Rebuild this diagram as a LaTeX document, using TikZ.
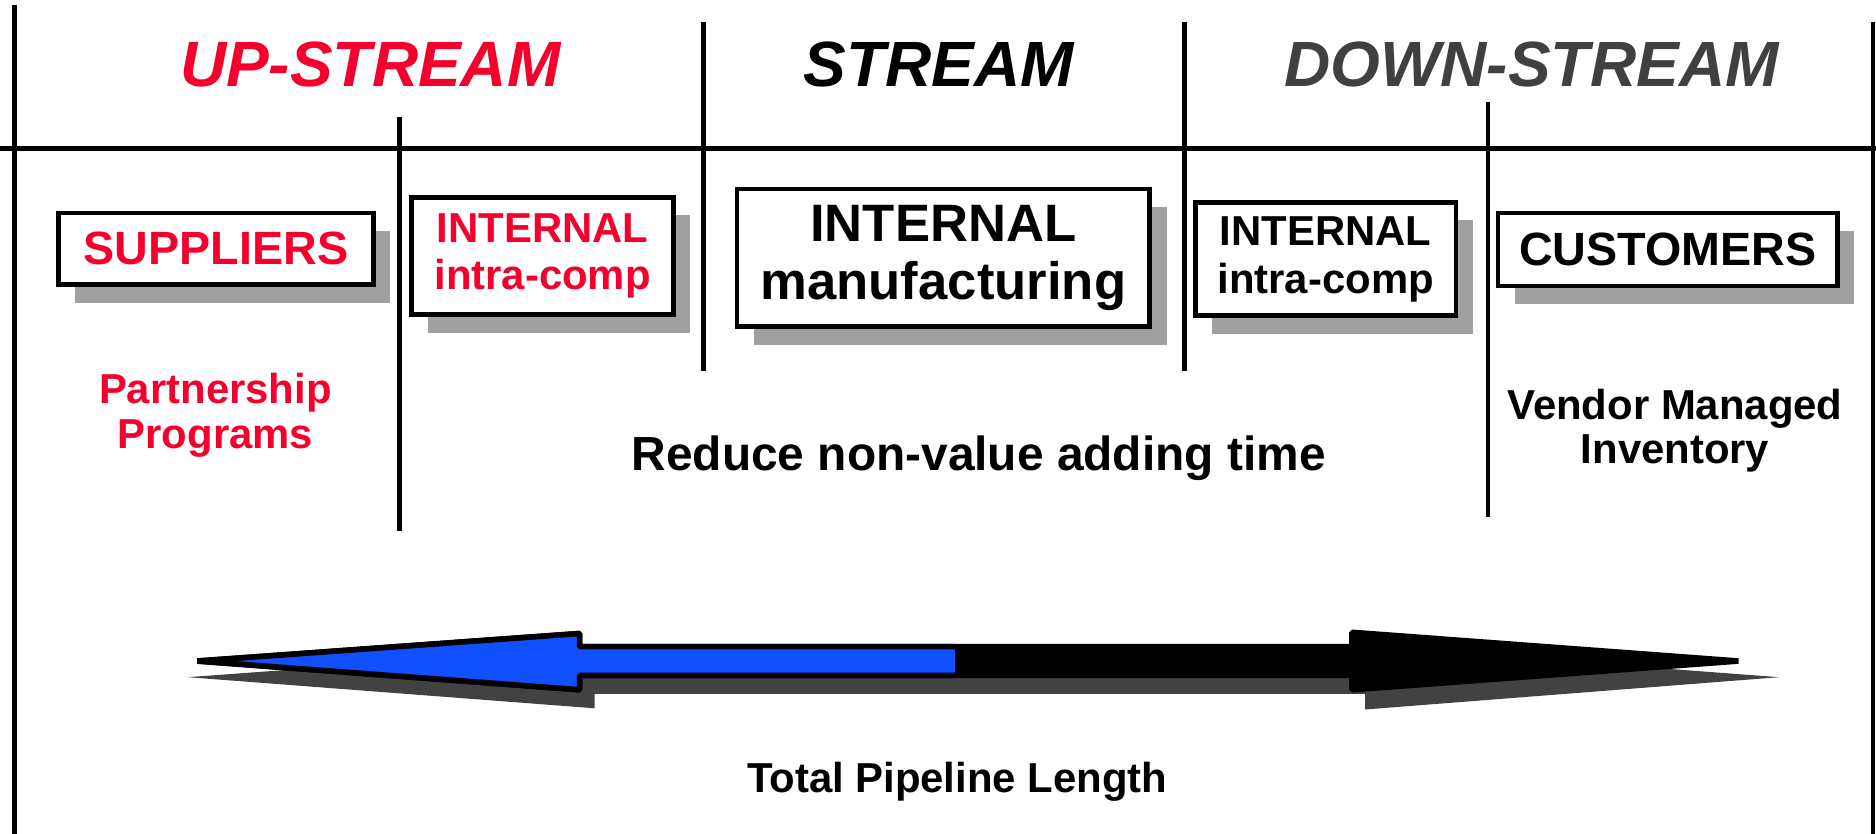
\documentclass[tikz,border=0pt]{standalone}
\usepackage{fontspec}
\setmainfont{Liberation Sans}
\usetikzlibrary{shadows}
\definecolor{upred}{RGB}{245,0,45}
\definecolor{downgray}{RGB}{64,64,64}
\definecolor{boxshadow}{RGB}{160,160,160}
\definecolor{arrowshadow}{RGB}{66,66,66}
\definecolor{arrowblue}{RGB}{17,80,255}
\newcommand\myfs[2]{\fontsize{#1}{#2}\selectfont}
\begin{document}
\begin{tikzpicture}[x=1pt,y=-1pt,
  divider/.style={line width=3.6pt},
  heading/.style={font=\myfs{53.5}{60}\bfseries\itshape, anchor=base, inner sep=0pt},
  pbox/.style={draw, line width=4pt, fill=white, inner sep=0pt, align=center,
    drop shadow={shadow xshift=14pt, shadow yshift=-15pt, fill=boxshadow, opacity=1}},
  label/.style={font=\myfs{35}{37}\bfseries, align=center, inner sep=0pt}
]
\useasboundingbox (0,0) rectangle (1568,697);
\fill[white] (0,0) rectangle (1568,697);

% dividers
\draw[divider] (12,4) -- (12,697);
\draw[divider] (0,124) -- (1568,124);
\draw[divider] (334,98) -- (334,444);
\draw[divider] (588,18) -- (588,310);
\draw[divider] (990,18) -- (990,310);
\draw[divider] (1243.5,85) -- (1243.5,432);
\draw[divider] (1565.5,18) -- (1565.5,697);

% headings
\node[heading, text=upred] (hup) at (309.5,72) {UP-STREAM};
\node[heading, text=black] (hst) at (784.5,72) {STREAM};
\node[heading, text=downgray] (hdn) at (1280,72) {DOWN-STREAM};

% boxes
\node[pbox, text=upred, minimum width=263pt, minimum height=60pt, font=\myfs{39}{44}\bfseries] (sup) at (180.5,208) {SUPPLIERS};
\node[pbox, text=upred, minimum width=219pt, minimum height=98pt, font=\myfs{35}{39}\bfseries] (intu) at (453.5,214) {INTERNAL\\intra-comp};
\node[pbox, text=black, minimum width=345pt, minimum height=115pt, font=\myfs{44}{49}\bfseries] (manu) at (788.5,215.5) {INTERNAL\\manufacturing};
\node[pbox, text=black, minimum width=218pt, minimum height=95pt, font=\myfs{35}{40}\bfseries] (intd) at (1108,216.5) {INTERNAL\\intra-comp};
\node[pbox, text=black, minimum width=284pt, minimum height=61pt, font=\myfs{39}{44}\bfseries] (cus) at (1394,208.5) {CUSTOMERS};

% free labels
\node[label, text=upred] (pp) at (180,347) {Partnership\\Programs};
\node[label, font=\myfs{40}{44}\bfseries, anchor=base] (rn) at (818,393) {Reduce non-value adding time};
\node[label] (vmi) at (1400,360) {Vendor Managed\\Inventory};
\node[label, anchor=base] (tpl) at (800,662) {Total Pipeline Length};

% pipeline arrow shadow
\fill[arrowshadow] (157,566) -- (497,541) -- (497,554) -- (1141,554) -- (1141,540) -- (1487,566) -- (1141,593) -- (1141,580) -- (497,580) -- (497,592) -- cycle;
% pipeline arrow (black)
\filldraw[fill=black, draw=black, line width=4.7pt, line join=bevel]
  (165,552.5) -- (484.5,529.5) -- (484.5,540.5) -- (1130,540.5) -- (1130,528.5) -- (1453,552.5) -- (1130,576.5) -- (1130,564.5) -- (484.5,564.5) -- (484.5,576.5) -- cycle;
% blue part
\begin{scope}
\clip (0,0) rectangle (798,697);
\filldraw[fill=arrowblue, draw=black, line width=4.7pt, line join=bevel]
  (165,552.5) -- (484.5,529.5) -- (484.5,540.5) -- (1130,540.5) -- (1130,528.5) -- (1453,552.5) -- (1130,576.5) -- (1130,564.5) -- (484.5,564.5) -- (484.5,576.5) -- cycle;
\end{scope}
\end{tikzpicture}
\end{document}
